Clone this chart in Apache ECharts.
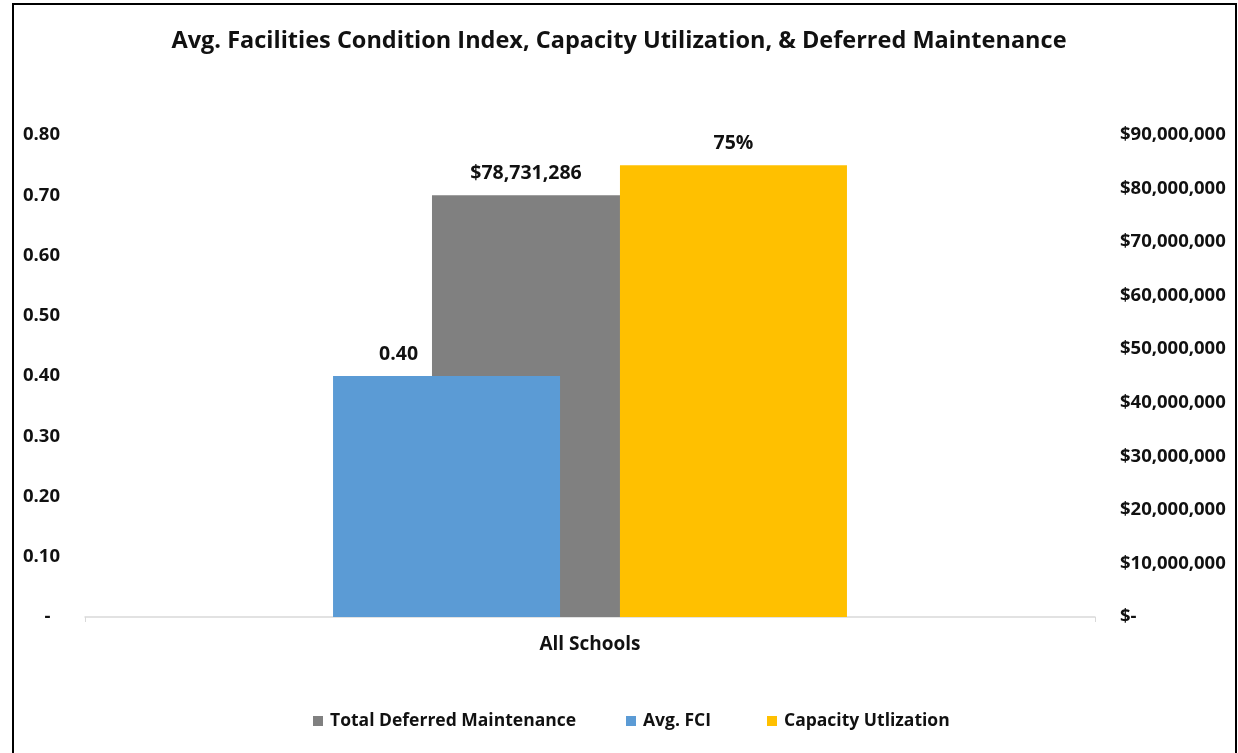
<!DOCTYPE html>
<html>
<head>
<meta charset="utf-8">
<script src="https://cdn.jsdelivr.net/npm/echarts@6/dist/echarts.min.js"></script>
<style>
html,body{margin:0;padding:0;background:#fff;}
#chart{width:1238px;height:753px;}
</style>
</head>
<body>
<div id="chart"></div>
<script>
const categories = ['All Schools'];
const seriesNames = ['Total Deferred Maintenance', 'Avg. FCI', 'Capacity Utlization'];
const deferredMaintenance = [78731286];
const avgFCI = [0.40];
const capacityUtilization = [0.75];
const leftTicks = { min: 0, max: 0.8, interval: 0.1 };
const rightTicks = { min: 0, max: 90000000, interval: 10000000 };

const FONT = '"Open Sans", "Liberation Sans", sans-serif';
const TXT = '#111';

function money(v) {
  if (v === 0) return '$-';
  return '$' + Math.round(v).toLocaleString('en-US');
}

const legendLefts = [308, 621, 762];
const legends = seriesNames.map((n, i) => ({
  data: [n],
  left: legendLefts[i],
  top: 707,
  itemWidth: 10,
  itemHeight: 10,
  icon: 'rect',
  textStyle: { fontFamily: FONT, fontSize: 17.5, fontWeight: 'bold', color: TXT, padding: [0, 0, 0, 2] }
}));

const chart = echarts.init(document.getElementById('chart'));
chart.setOption({
  animation: false,
  backgroundColor: '#fff',
  textStyle: { fontFamily: FONT },
  title: {
    text: 'Avg. Facilities Condition Index, Capacity Utilization, & Deferred Maintenance',
    left: 'center',
    top: 24,
    textStyle: { fontFamily: FONT, fontSize: 23.5, fontWeight: 'bold', color: TXT }
  },
  graphic: [{
    type: 'rect',
    shape: { x: 13, y: 4, width: 1223, height: 800 },
    style: { fill: 'none', stroke: '#000', lineWidth: 2 },
    silent: true
  }],
  legend: legends,
  grid: { left: 85, right: 143, top: 135, bottom: 136, containLabel: false },
  xAxis: [{
    type: 'category',
    data: categories,
    axisLine: { lineStyle: { color: '#d9d9d9', width: 1.5 } },
    axisTick: { show: true, length: 5, lineStyle: { color: '#d9d9d9' } },
    axisLabel: { fontFamily: FONT, fontSize: 19, fontWeight: 'bold', color: TXT, margin: 18 }
  }, {
    type: 'category',
    data: categories,
    show: false
  }],
  yAxis: [{
    type: 'value',
    min: leftTicks.min, max: leftTicks.max, interval: leftTicks.interval,
    splitLine: { show: false },
    axisLine: { show: false },
    axisTick: { show: false },
    axisLabel: {
      fontFamily: FONT, fontSize: 18.5, fontWeight: 'bold', color: TXT, margin: 25,
      formatter: v => (Math.abs(v) < 1e-9 ? '-  ' : v.toFixed(2))
    }
  }, {
    type: 'value',
    min: rightTicks.min, max: rightTicks.max, interval: rightTicks.interval,
    splitLine: { show: false },
    axisLine: { show: false },
    axisTick: { show: false },
    axisLabel: {
      fontFamily: FONT, fontSize: 18.5, fontWeight: 'bold', color: TXT, margin: 25,
      formatter: v => money(v)
    }
  }],
  series: [{
    name: seriesNames[0],
    type: 'bar',
    xAxisIndex: 1,
    yAxisIndex: 1,
    data: deferredMaintenance,
    barWidth: 188,
    barGap: '-31.9%',
    z: 1,
    itemStyle: { color: '#808080' },
    label: {
      show: true, position: 'top', distance: 12,
      fontFamily: FONT, fontSize: 19.5, fontWeight: 'bold', color: TXT,
      formatter: p => money(p.value)
    }
  }, {
    name: '_spacer',
    type: 'bar',
    xAxisIndex: 1,
    yAxisIndex: 1,
    data: [null],
    barWidth: 188,
    z: 1,
    itemStyle: { color: 'transparent' }
  }, {
    name: seriesNames[1],
    type: 'bar',
    xAxisIndex: 0,
    yAxisIndex: 0,
    data: avgFCI,
    barWidth: 227,
    barGap: '26.4%',
    z: 3,
    itemStyle: { color: '#5B9BD5' },
    label: {
      show: true, position: 'top', distance: 12, offset: [-48, 0],
      fontFamily: FONT, fontSize: 19.5, fontWeight: 'bold', color: TXT,
      formatter: p => p.value.toFixed(2)
    }
  }, {
    name: seriesNames[2],
    type: 'bar',
    xAxisIndex: 0,
    yAxisIndex: 0,
    data: capacityUtilization,
    barWidth: 227,
    z: 3,
    itemStyle: { color: '#FFC000' },
    label: {
      show: true, position: 'top', distance: 12,
      fontFamily: FONT, fontSize: 19.5, fontWeight: 'bold', color: TXT,
      formatter: p => Math.round(p.value * 100) + '%'
    }
  }]
});
</script>
</body>
</html>
